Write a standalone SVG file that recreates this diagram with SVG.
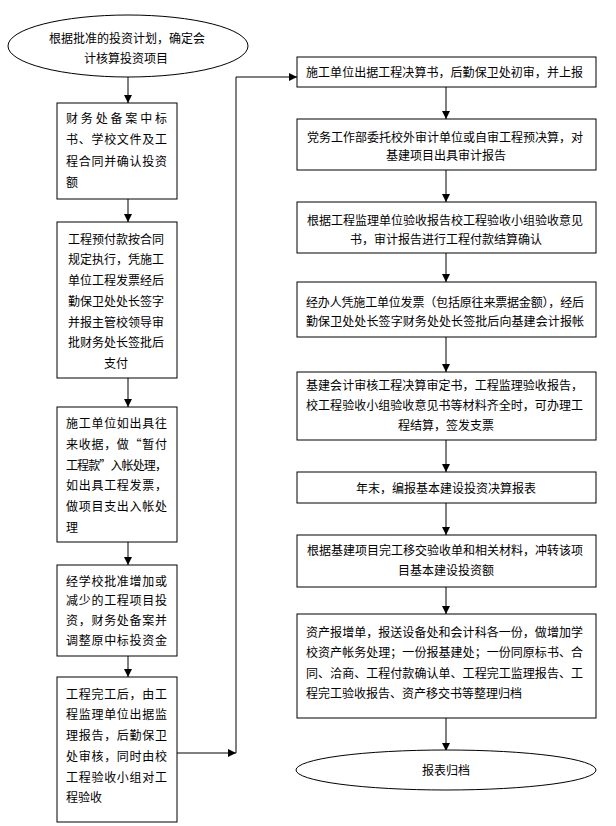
<svg xmlns="http://www.w3.org/2000/svg" width="616" height="826" viewBox="0 0 616 826">
<style>
.n{fill:#fff;stroke:#000;stroke-width:1}
text{font-family:"Noto Sans CJK SC","Noto Sans CJK JP",sans-serif;font-size:12px;fill:#000}
.c{text-anchor:middle}
.l{stroke:#000;stroke-width:1;fill:none}
</style>
<defs>
<marker id="a" viewBox="0 0 10 10" refX="10" refY="5" markerWidth="8" markerHeight="8" markerUnits="userSpaceOnUse" orient="auto"><path d="M0,0L10,5L0,10z" fill="#000"/></marker>
</defs>
<rect width="616" height="826" fill="#fff"/>
<g id="connectors">
<line class="l" x1="128" y1="77" x2="128" y2="103" marker-end="url(#a)"/>
<line class="l" x1="128" y1="199" x2="128" y2="222" marker-end="url(#a)"/>
<line class="l" x1="128" y1="378" x2="128" y2="407" marker-end="url(#a)"/>
<line class="l" x1="128" y1="542" x2="128" y2="565" marker-end="url(#a)"/>
<line class="l" x1="128" y1="656" x2="128" y2="677" marker-end="url(#a)"/>
<line class="l" x1="177" y1="753" x2="236" y2="753" marker-end="url(#a)"/>
<polyline class="l" points="236,753 236,77 297,77" marker-end="url(#a)"/>
<line class="l" x1="446" y1="87" x2="446" y2="119" marker-end="url(#a)"/>
<line class="l" x1="446" y1="170" x2="446" y2="202" marker-end="url(#a)"/>
<line class="l" x1="446" y1="253" x2="446" y2="282" marker-end="url(#a)"/>
<line class="l" x1="446" y1="337" x2="446" y2="372" marker-end="url(#a)"/>
<line class="l" x1="446" y1="440" x2="446" y2="472" marker-end="url(#a)"/>
<line class="l" x1="446" y1="503" x2="446" y2="535" marker-end="url(#a)"/>
<line class="l" x1="446" y1="587" x2="446" y2="614" marker-end="url(#a)"/>
<line class="l" x1="446" y1="718" x2="446" y2="751" marker-end="url(#a)"/>
</g>
<g id="start">
<ellipse class="n" cx="128" cy="46" rx="120" ry="31"/>
<text class="c" x="127" y="42.5">根据批准的投资计划，确定会</text>
<text class="c" x="126" y="62.5">计核算投资项目</text>
</g>
<g id="box1">
<rect class="n" x="57" y="103" width="120" height="96"/>
<text x="66" y="122.5" textLength="101" lengthAdjust="spacing">财务处备案中标</text>
<text x="66" y="144" textLength="101" lengthAdjust="spacing">书、学校文件及工</text>
<text x="66" y="165.5" textLength="101" lengthAdjust="spacing">程合同并确认投资</text>
<text x="66" y="186.5">额</text>
</g>
<g id="box2">
<rect class="n" x="57" y="222" width="120" height="156"/>
<text class="c" x="116" y="243.5">工程预付款按合同</text>
<text class="c" x="116" y="264">规定执行，凭施工</text>
<text class="c" x="116" y="284.5">单位工程发票经后</text>
<text class="c" x="116" y="305.5">勤保卫处处长签字</text>
<text class="c" x="116" y="326.5">并报主管校领导审</text>
<text class="c" x="116" y="347">批财务处长签批后</text>
<text class="c" x="116" y="367.5">支付</text>
</g>
<g id="box3">
<rect class="n" x="57" y="407" width="120" height="135"/>
<text x="66" y="427.5" textLength="101" lengthAdjust="spacing">施工单位如出具往</text>
<text x="66" y="448.5" textLength="101" lengthAdjust="spacing">来收据，做“暂付</text>
<text x="66" y="469.5" textLength="101" lengthAdjust="spacing">工程款”入帐处理，</text>
<text x="66" y="490" textLength="101" lengthAdjust="spacing">如出具工程发票，</text>
<text x="66" y="511" textLength="101" lengthAdjust="spacing">做项目支出入帐处</text>
<text x="66" y="531.5">理</text>
</g>
<g id="box4">
<rect class="n" x="57" y="565" width="120" height="91"/>
<text x="66" y="585.5" textLength="101" lengthAdjust="spacing">经学校批准增加或</text>
<text x="66" y="605" textLength="101" lengthAdjust="spacing">减少的工程项目投</text>
<text x="66" y="625" textLength="101" lengthAdjust="spacing">资，财务处备案并</text>
<text x="66" y="644.5" textLength="101" lengthAdjust="spacing">调整原中标投资金</text>
</g>
<g id="box5">
<rect class="n" x="57" y="677" width="120" height="145"/>
<text x="66" y="698.5" textLength="101" lengthAdjust="spacing">工程完工后，由工</text>
<text x="66" y="718.5" textLength="101" lengthAdjust="spacing">程监理单位出据监</text>
<text x="66" y="739.5" textLength="101" lengthAdjust="spacing">理报告，后勤保卫</text>
<text x="66" y="760.5" textLength="101" lengthAdjust="spacing">处审核，同时由校</text>
<text x="66" y="781.5" textLength="101" lengthAdjust="spacing">工程验收小组对工</text>
<text x="66" y="801.5">程验收</text>
</g>
<g id="r1">
<rect class="n" x="297" y="57" width="299" height="30"/>
<text x="306" y="77" textLength="277" lengthAdjust="spacing">施工单位出据工程决算书，后勤保卫处初审，并上报</text>
</g>
<g id="r2">
<rect class="n" x="297" y="119" width="299" height="51"/>
<text x="307" y="141.5" textLength="276" lengthAdjust="spacing">党务工作部委托校外审计单位或自审工程预决算，对</text>
<text class="c" x="446" y="159.5">基建项目出具审计报告</text>
</g>
<g id="r3">
<rect class="n" x="297" y="202" width="299" height="51"/>
<text x="307" y="224.5" textLength="276" lengthAdjust="spacing">根据工程监理单位验收报告校工程验收小组验收意见</text>
<text class="c" x="446" y="243.5">书，审计报告进行工程付款结算确认</text>
</g>
<g id="r4">
<rect class="n" x="297" y="282" width="299" height="55"/>
<text x="306" y="306.5" textLength="278" lengthAdjust="spacing">经办人凭施工单位发票（包括原往来票据金额），经后</text>
<text x="306" y="325.5" textLength="278" lengthAdjust="spacing">勤保卫处处长签字财务处处长签批后向基建会计报帐</text>
</g>
<g id="r5">
<rect class="n" x="297" y="372" width="299" height="68"/>
<text x="306" y="389.5" textLength="277" lengthAdjust="spacing">基建会计审核工程决算审定书，工程监理验收报告，</text>
<text x="306" y="409.5" textLength="277" lengthAdjust="spacing">校工程验收小组验收意见书等材料齐全时，可办理工</text>
<text class="c" x="446" y="429.5">程结算，签发支票</text>
</g>
<g id="r6">
<rect class="n" x="297" y="472" width="299" height="31"/>
<text class="c" x="446" y="492.5">年末，编报基本建设投资决算报表</text>
</g>
<g id="r7">
<rect class="n" x="297" y="535" width="299" height="52"/>
<text x="307" y="554.5" textLength="276" lengthAdjust="spacing">根据基建项目完工移交验收单和相关材料，冲转该项</text>
<text class="c" x="446" y="574.5">目基本建设投资额</text>
</g>
<g id="r8">
<rect class="n" x="297" y="614" width="299" height="104"/>
<text x="306" y="636.5" textLength="277" lengthAdjust="spacing">资产报增单，报送设备处和会计科各一份，做增加学</text>
<text x="306" y="656.5" textLength="277" lengthAdjust="spacing">校资产帐务处理；一份报基建处；一份同原标书、合</text>
<text x="306" y="677.5" textLength="277" lengthAdjust="spacing">同、洽商、工程付款确认单、工程完工监理报告、工</text>
<text x="306" y="697.5">程完工验收报告、资产移交书等整理归档</text>
</g>
<g id="end">
<ellipse class="n" cx="446" cy="770" rx="150" ry="20"/>
<text class="c" x="446" y="774.5">报表归档</text>
</g>
</svg>
